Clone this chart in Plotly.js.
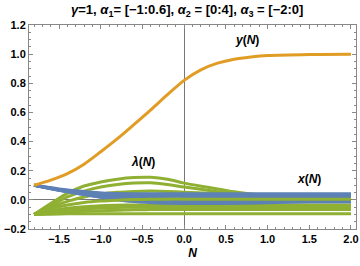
<!DOCTYPE html>
<html>
<head>
<meta charset="utf-8">
<script src="https://cdn.plot.ly/plotly-3.0.1.min.js"></script>
<style>html,body{margin:0;padding:0;background:#fff;}#chart{width:360px;height:266px;}</style>
</head>
<body>
<div id="chart"></div>
<script>
// y(N) curve
const N_y = [-1.8, -1.6, -1.4, -1.2, -1.0, -0.8, -0.6, -0.4, -0.2, 0.0, 0.2, 0.4, 0.6, 0.8, 1.0, 1.5, 2.0];
const yN  = [0.10, 0.135, 0.18, 0.245, 0.33, 0.42, 0.518, 0.618, 0.722, 0.82, 0.892, 0.938, 0.965, 0.98, 0.99, 0.998, 1.0];

// x(N) curves
const N_x = [-1.8, -1.5, -1.2, -0.9, -0.6, -0.3, 0.0, 0.5, 1.0, 1.5, 2.0];
const x1 = [0.10, 0.075, 0.058, 0.045, 0.042, 0.042, 0.042, 0.042, 0.042, 0.042, 0.042];
const x2 = [0.10, 0.072, 0.052, 0.035, 0.030, 0.030, 0.030, 0.030, 0.030, 0.030, 0.030];
const x3 = [0.10, 0.070, 0.047, 0.027, 0.018, 0.015, 0.015, 0.015, 0.013, 0.010, 0.010];
const x4 = [0.10, 0.068, 0.042, 0.018, 0.006, 0.003, 0.003, 0.003, 0.003, 0.003, 0.003];
const x5 = [0.10, 0.066, 0.038, 0.012, -0.005, -0.012, -0.015, -0.018, -0.015, -0.012, -0.010];
const x6 = [0.10, 0.065, 0.036, 0.008, -0.012, -0.022, -0.025, -0.025, -0.020, -0.015, -0.015];

// lambda(N) curves
const N_l = [-1.8, -1.6, -1.4, -1.2, -1.0, -0.8, -0.6, -0.4, -0.2, 0.0, 0.3, 0.6, 0.9, 1.2, 1.5, 2.0];
const l1 = [-0.10, -0.025, 0.045, 0.095, 0.123, 0.142, 0.153, 0.155, 0.142, 0.115, 0.085, 0.055, 0.035, 0.025, 0.020, 0.018];
const l2 = [-0.10, -0.040, 0.020, 0.060, 0.088, 0.105, 0.115, 0.117, 0.105, 0.088, 0.065, 0.045, 0.030, 0.022, 0.018, 0.015];
const l3 = [-0.10, -0.050, -0.010, 0.020, 0.040, 0.052, 0.058, 0.060, 0.058, 0.053, 0.045, 0.035, 0.027, 0.021, 0.017, 0.015];
const l4 = [-0.10, -0.060, -0.035, -0.018, -0.008, -0.002, 0.002, 0.004, 0.005, 0.005, 0.005, 0.005, 0.005, 0.005, 0.005, 0.005];
const l5 = [-0.10, -0.075, -0.058, -0.047, -0.040, -0.037, -0.035, -0.035, -0.035, -0.035, -0.035, -0.035, -0.035, -0.035, -0.035, -0.035];
const l6 = [-0.10, -0.085, -0.072, -0.062, -0.056, -0.052, -0.050, -0.050, -0.050, -0.050, -0.050, -0.050, -0.050, -0.050, -0.050, -0.050];
const l7 = [-0.10, -0.092, -0.085, -0.079, -0.075, -0.072, -0.068, -0.067, -0.066, -0.066, -0.066, -0.066, -0.066, -0.066, -0.066, -0.066];
const l8 = [-0.10, -0.098, -0.096, -0.095, -0.095, -0.095, -0.095, -0.095, -0.095, -0.095, -0.095, -0.095, -0.095, -0.095, -0.095, -0.095];

const BLUE = '#5E81B5', ORANGE = '#E19C24', GREEN = '#8FB032';
const LW = 3;

function tr(xs, ys, color) {
  return {x: xs, y: ys, type: 'scatter', mode: 'lines', hoverinfo: 'skip',
          line: {color: color, width: LW, shape: 'spline', smoothing: 0.8}, showlegend: false};
}

const traces = [];
[l1, l2, l3, l5, l6, l7, l8].forEach(l => traces.push(tr(N_l, l, GREEN)));
[x1, x2, x3, x4, x5, x6].forEach(x => traces.push(tr(N_x, x, BLUE)));
traces.push(tr(N_l, l4, GREEN));
traces.push(tr(N_y, yN, ORANGE));

const tickFont = {family: 'Liberation Sans, Arial, sans-serif', size: 11, color: '#000', weight: 'bold'};
const annFont = {family: 'Liberation Sans, Arial, sans-serif', size: 12, color: '#000'};

const layout = {
  width: 360, height: 266,
  margin: {l: 29, r: 4, t: 25, b: 37},
  paper_bgcolor: '#fff', plot_bgcolor: '#fff',
  title: {
    text: '<b><i>γ</i>=1, <i>α</i><sub>1</sub>= [−1:0.6], <i>α</i><sub>2</sub> = [0:4], <i>α</i><sub>3</sub> = [−2:0]</b>',
    font: {family: 'Liberation Sans, Arial, sans-serif', size: 13, color: '#000'},
    x: 0.52, xanchor: 'center', y: 0.965, yanchor: 'middle'
  },
  xaxis: {
    range: [-1.86, 2.06], tickvals: [-1.5, -1.0, -0.5, 0.0, 0.5, 1.0, 1.5, 2.0],
    tickformat: '.1f', ticks: 'inside', ticklen: 4, tickcolor: '#888', tickwidth: 1,
    minor: {dtick: 0.1, tick0: 0, ticks: 'inside', ticklen: 2, tickcolor: '#888'},
    showline: true, linecolor: '#888', linewidth: 1, mirror: 'allticks',
    showgrid: false, zeroline: true, zerolinecolor: '#777', zerolinewidth: 1,
    tickfont: tickFont,
    title: {text: '<b><i>N</i></b>', font: {family: 'Liberation Sans, Arial, sans-serif', size: 12, color: '#000'}, standoff: 4}
  },
  yaxis: {
    range: [-0.2, 1.2], tickvals: [-0.2, 0.0, 0.2, 0.4, 0.6, 0.8, 1.0, 1.2],
    tickformat: '.1f', ticks: 'inside', ticklen: 4, tickcolor: '#888', tickwidth: 1,
    minor: {dtick: 0.05, tick0: 0, ticks: 'inside', ticklen: 2, tickcolor: '#888'},
    showline: true, linecolor: '#888', linewidth: 1, mirror: 'allticks',
    showgrid: false, zeroline: true, zerolinecolor: '#777', zerolinewidth: 1,
    tickfont: tickFont
  },
  annotations: [
    {x: 0.75, y: 1.10, text: '<b><i>y</i>(<i>N</i>)</b>', showarrow: false, font: annFont},
    {x: -0.49, y: 0.26, text: '<b><i>λ</i>(<i>N</i>)</b>', showarrow: false, font: annFont},
    {x: 1.50, y: 0.14, text: '<b><i>x</i>(<i>N</i>)</b>', showarrow: false, font: annFont}
  ]
};

Plotly.newPlot('chart', traces, layout, {staticPlot: true, displayModeBar: false});
</script>
</body>
</html>
